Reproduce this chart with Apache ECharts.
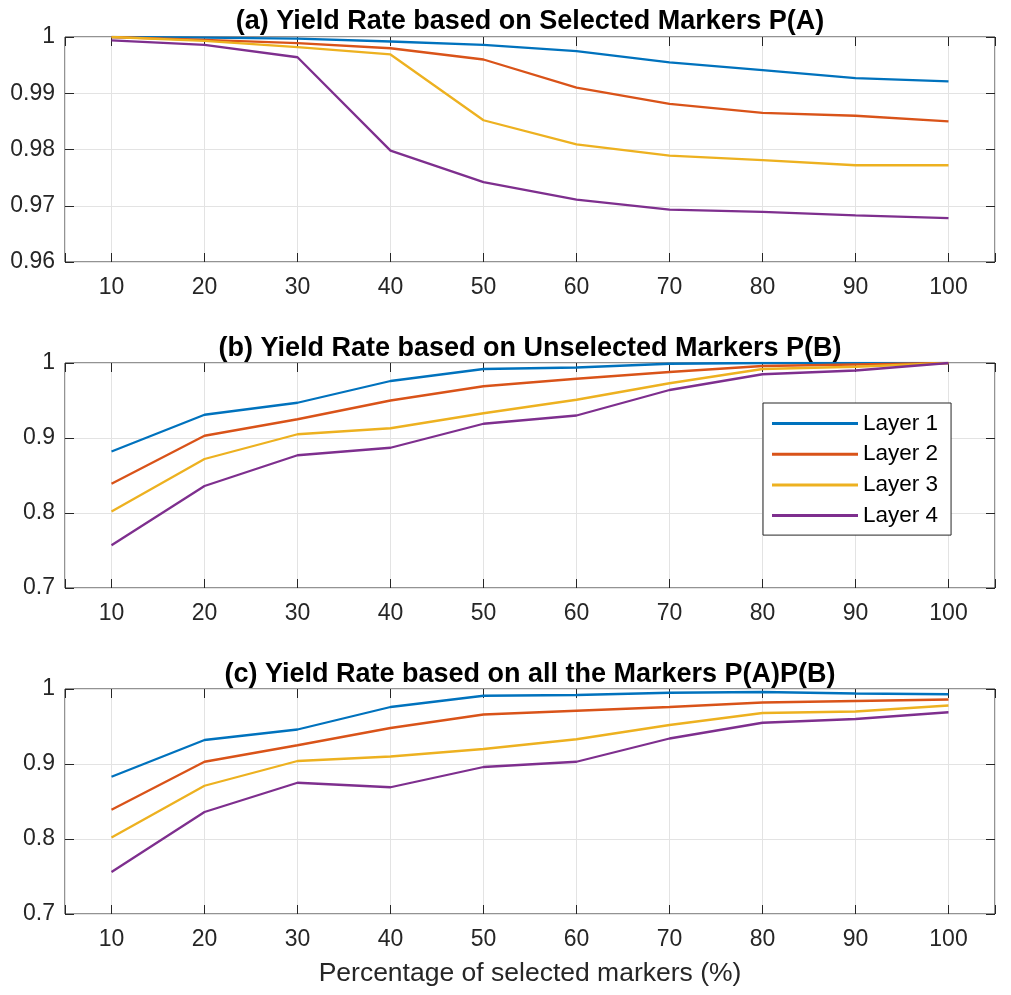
<!DOCTYPE html>
<html>
<head>
<meta charset="utf-8">
<script src="https://cdn.jsdelivr.net/npm/echarts@6/dist/echarts.min.js"></script>
<style>html,body{margin:0;padding:0;background:#fff;}#c{width:1011px;height:995px;}</style>
</head>
<body>
<div id="c"></div>
<script>
var categories = [10, 20, 30, 40, 50, 60, 70, 80, 90, 100];
var seriesNames = ['Layer 1', 'Layer 2', 'Layer 3', 'Layer 4'];
var panelTitles = [
  '(a) Yield Rate based on Selected Markers P(A)',
  '(b) Yield Rate based on Unselected Markers P(B)',
  '(c) Yield Rate based on all the Markers P(A)P(B)'
];
var xAxisName = 'Percentage of selected markers (%)';

// (a) P(A)
var pA_layer1 = [1.0000, 0.9999, 0.9997, 0.9992, 0.9986, 0.9975, 0.9955, 0.9941, 0.9927, 0.9921];
var pA_layer2 = [1.0000, 0.9995, 0.9989, 0.9980, 0.9960, 0.9910, 0.9881, 0.9865, 0.9860, 0.9850];
var pA_layer3 = [1.0000, 0.9993, 0.9982, 0.9969, 0.9852, 0.9809, 0.9789, 0.9781, 0.9772, 0.9772];
var pA_layer4 = [0.9994, 0.9986, 0.9964, 0.9798, 0.9742, 0.9711, 0.9693, 0.9689, 0.9683, 0.9678];

// (b) P(B)
var pB_layer1 = [0.882, 0.931, 0.947, 0.976, 0.992, 0.994, 0.999, 1.000, 1.000, 1.000];
var pB_layer2 = [0.839, 0.903, 0.925, 0.950, 0.969, 0.979, 0.988, 0.996, 0.998, 1.000];
var pB_layer3 = [0.802, 0.872, 0.905, 0.913, 0.933, 0.951, 0.973, 0.992, 0.995, 1.000];
var pB_layer4 = [0.757, 0.836, 0.877, 0.887, 0.919, 0.930, 0.964, 0.985, 0.990, 1.000];

// (c) P(A)P(B)
var pC_layer1 = [0.883, 0.932, 0.946, 0.976, 0.991, 0.992, 0.995, 0.996, 0.994, 0.993];
var pC_layer2 = [0.839, 0.903, 0.925, 0.948, 0.966, 0.971, 0.976, 0.982, 0.984, 0.986];
var pC_layer3 = [0.802, 0.871, 0.904, 0.910, 0.920, 0.933, 0.952, 0.968, 0.970, 0.978];
var pC_layer4 = [0.756, 0.836, 0.875, 0.869, 0.896, 0.903, 0.934, 0.955, 0.960, 0.969];

var yTicksA = [0.96, 0.97, 0.98, 0.99, 1];
var yTicksBC = [0.7, 0.8, 0.9, 1];

var panelData = [
  [pA_layer1, pA_layer2, pA_layer3, pA_layer4],
  [pB_layer1, pB_layer2, pB_layer3, pB_layer4],
  [pC_layer1, pC_layer2, pC_layer3, pC_layer4]
];
var panelYTicks = [yTicksA, yTicksBC, yTicksBC];

var colors = ['#0072BD', '#D95319', '#EDB120', '#7E2F8E'];
var font = "'Liberation Sans', Arial, Helvetica, sans-serif";
var axisColor = '#262626';
var gridTops = [37, 363, 689];
var gridH = 225;

var grids = [], xAxes = [], yAxes = [], series = [], titles = [];
gridTops.forEach(function (top, p) {
  grids.push({left: 65, top: top, width: 930, height: gridH, show: true,
    borderColor: axisColor, borderWidth: 1, backgroundColor: '#fff', containLabel: false});
  var yt = panelYTicks[p];
  var yMin = yt[0], yMax = yt[yt.length - 1];
  var yInt = Math.round((yt[1] - yt[0]) * 1000) / 1000;
  var tick = {show: true, inside: true, length: 9, lineStyle: {color: axisColor, width: 1}};
  xAxes.push({type: 'value', gridIndex: p, min: 5, max: 105, splitNumber: 10, position: 'bottom',
    axisLine: {show: false}, axisTick: tick,
    axisLabel: {show: true, color: axisColor, fontFamily: font, fontSize: 23, margin: 14,
      formatter: function (v) { return categories.indexOf(v) >= 0 ? String(v) : ''; }},
    splitLine: {show: true, lineStyle: {color: '#e3e3e3', width: 1}},
    name: p === 2 ? xAxisName : '', nameLocation: 'middle', nameGap: 46,
    nameTextStyle: {color: axisColor, fontFamily: font, fontSize: 26.5}});
  xAxes.push({type: 'value', gridIndex: p, min: 5, max: 105, splitNumber: 10, position: 'top',
    axisLine: {show: false}, axisTick: tick, axisLabel: {show: false}, splitLine: {show: false}});
  yAxes.push({type: 'value', gridIndex: p, min: yMin, max: yMax, interval: yInt, position: 'left',
    axisLine: {show: false}, axisTick: tick,
    axisLabel: {show: true, color: axisColor, fontFamily: font, fontSize: 23, margin: 10,
      padding: [4, 0, 0, 0],
      formatter: function (v) { return String(Number(v.toFixed(3))); }},
    splitLine: {show: true, lineStyle: {color: '#e3e3e3', width: 1}}});
  yAxes.push({type: 'value', gridIndex: p, min: yMin, max: yMax, interval: yInt, position: 'right',
    axisLine: {show: false}, axisTick: tick, axisLabel: {show: false}, splitLine: {show: false}});
  panelData[p].forEach(function (vals, s) {
    series.push({
      name: seriesNames[s], type: 'line', xAxisIndex: p * 2, yAxisIndex: p * 2,
      data: categories.map(function (c, i) { return [c, vals[i]]; }),
      symbol: 'none', showSymbol: false, smooth: false,
      lineStyle: {color: colors[s], width: 2.3}, itemStyle: {color: colors[s]},
      emphasis: {disabled: true}, animation: false, clip: true
    });
  });
  titles.push({text: panelTitles[p], left: 530, top: [8, 335, 661][p], textAlign: 'center', padding: 0,
    textStyle: {color: '#000', fontFamily: font, fontWeight: 'bold', fontSize: 27}});
});

var chart = echarts.init(document.getElementById('c'), null, {renderer: 'canvas'});
chart.setOption({
  animation: false,
  backgroundColor: '#fff',
  title: titles,
  grid: grids,
  xAxis: xAxes,
  yAxis: yAxes,
  legend: {
    data: seriesNames, orient: 'vertical', left: 763, top: 403,
    padding: [9, 13, 8, 9], itemGap: 7.7, itemWidth: 86, itemHeight: 3, icon: 'rect',
    borderColor: axisColor, borderWidth: 1, backgroundColor: '#fff',
    textStyle: {color: '#000', fontFamily: font, fontSize: 22.5, lineHeight: 22},
    selectedMode: false
  },
  series: series
});
</script>
</body>
</html>
